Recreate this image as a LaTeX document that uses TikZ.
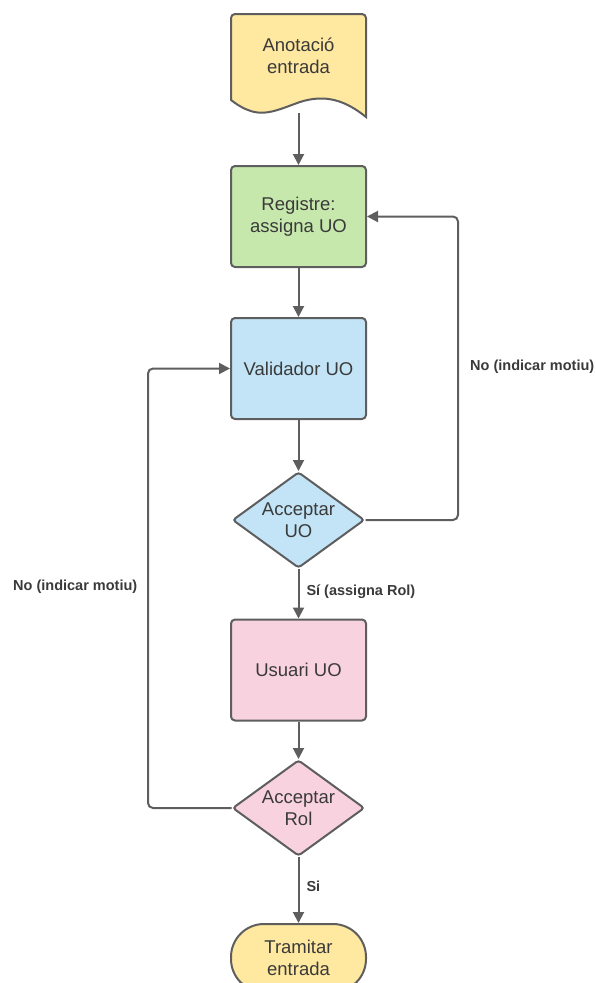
\documentclass[tikz,border=0pt]{standalone}
\usepackage{fontspec}
\setmainfont{Liberation Sans}
\usetikzlibrary{arrows.meta,shapes.geometric}
\definecolor{linegray}{HTML}{5E5E5E}
\definecolor{txtgray}{HTML}{3A3A3A}
\definecolor{fillyellow}{HTML}{FFE8A0}
\definecolor{fillgreen}{HTML}{C7E8AC}
\definecolor{fillblue}{HTML}{C2E4F6}
\definecolor{fillpink}{HTML}{F8D2DE}
\tikzset{
  boxtext/.style={text=txtgray, align=center, font=\fontsize{18.5}{22.5}\selectfont},
  box/.style={boxtext, draw=linegray, line width=2pt, rounded corners=4pt,
    minimum width=135pt, minimum height=101pt, inner sep=0pt},
  decision/.style={boxtext, diamond, draw=linegray, line width=2pt, rounded corners=3pt,
    shape aspect=1.375, minimum width=132pt, minimum height=96pt, inner sep=-5pt},
  flow/.style={draw=linegray, line width=2pt, rounded corners=5pt,
    -{Triangle[length=11pt,width=11pt]}},
  lbl/.style={text=txtgray, font=\bfseries\fontsize{14.5}{17}\selectfont, inner sep=0pt}
}
\begin{document}
\begin{tikzpicture}[x=1pt,y=-1pt]
  \useasboundingbox (0,0) rectangle (596,983);
  \clip (0,0) rectangle (596,983);

  % document shape (start)
  \draw[draw=linegray, fill=fillyellow, line width=2pt]
    (231,100) [rounded corners=4pt] -- (231,14) -- (366,14) [sharp corners] -- (366,117)
    .. controls (345,100) and (325,94) .. (300,102)
    .. controls (280,109) and (265,117) .. (248,110)
    .. controls (240,107) and (235,103) .. (231,100) -- cycle;
  \node[boxtext] (doc) at (298.5,56) {Anotació\\entrada};
  \coordinate (docbot) at (298.5,113);

  \node[box, fill=fillgreen] (reg) at (298.5,216.5) {Registre:\\assigna UO};
  \node[box, fill=fillblue] (val) at (298.5,368.5) {Validador UO};
  \node[decision, fill=fillblue] (acc1) at (298.5,520) {Acceptar\\UO};
  \node[box, fill=fillpink] (usr) at (298.5,670) {Usuari UO};
  \node[decision, fill=fillpink] (acc2) at (298.5,808) {Acceptar\\Rol};

  % terminal (end)
  \node[boxtext, draw=linegray, fill=fillyellow, line width=2pt, rounded corners=33pt,
    minimum width=135pt, minimum height=68pt, inner sep=0pt, anchor=north] (end) at (298.5,923)
    {Tramitar\\entrada};

  % connectors
  \draw[flow] (docbot) -- (reg.north);
  \draw[flow] (reg.south) -- (val.north);
  \draw[flow] (val.south) -- (acc1.north);
  \draw[flow] (acc1.south) -- node[lbl, right=7pt, pos=0.45] {Sí (assigna Rol)} (usr.north);
  \draw[flow] (usr.south) -- (acc2.north);
  \draw[flow] (acc2.south) -- node[lbl, right=7pt, pos=0.45] {Si} (end.north);

  \coordinate (r1) at (458,520);
  \coordinate (r2) at (458,216.5);
  \draw[flow] (acc1.east) -- (r1) -- (r2) -- (reg.east);
  \node[lbl, anchor=west] (lblr) at (470,367) {No (indicar motiu)};

  \coordinate (l1) at (148,808);
  \coordinate (l2) at (148,368.5);
  \draw[flow] (acc2.west) -- (l1) -- (l2) -- (val.west);
  \node[lbl, anchor=west] (lbll) at (13,587) {No (indicar motiu)};
\end{tikzpicture}
\end{document}
